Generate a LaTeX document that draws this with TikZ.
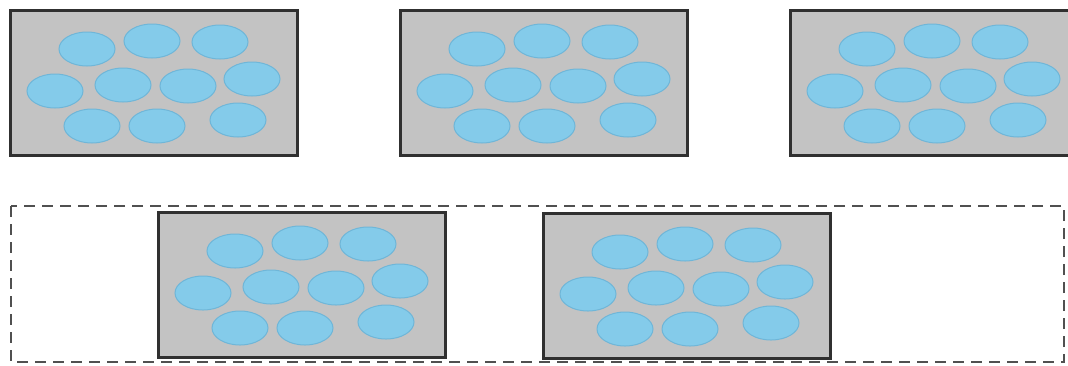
\documentclass[tikz,border=0pt]{standalone}
\usepackage{xcolor}
\definecolor{trayfill}{HTML}{C3C3C3}
\definecolor{trayline}{HTML}{303030}
\definecolor{dotblue}{HTML}{84CBEA}
\definecolor{dotedge}{HTML}{6FB6D8}
\definecolor{groupline}{HTML}{505050}
\begin{document}
\begin{tikzpicture}[x=1pt,y=-1pt,
  tray/.style={fill=trayfill,draw=trayline,line width=3pt},
  dot/.style={fill=dotblue,draw=dotedge,line width=1pt},
  group/.style={draw=groupline,line width=2.2pt,dash pattern=on 11pt off 7pt}]
\useasboundingbox (0,0) rectangle (1068,365);
\clip (0,0) rectangle (1068,365);
% dashed group round the two lower trays
\draw[group] (11,206) rectangle (1064,362);
% trays with ten tablets each
\foreach \x/\y in {10/10,400/10,790/10,158/212,543/213}{
  \draw[tray] (\x,\y) rectangle ++(287,145);
  \foreach \dx/\dy in {77/39,142/31,210/32,45/81,113/75,178/76,242/69,82/116,147/116,228/110}
    \draw[dot] (\x+\dx,\y+\dy) ellipse (28pt and 17pt);
}
\end{tikzpicture}
\end{document}
